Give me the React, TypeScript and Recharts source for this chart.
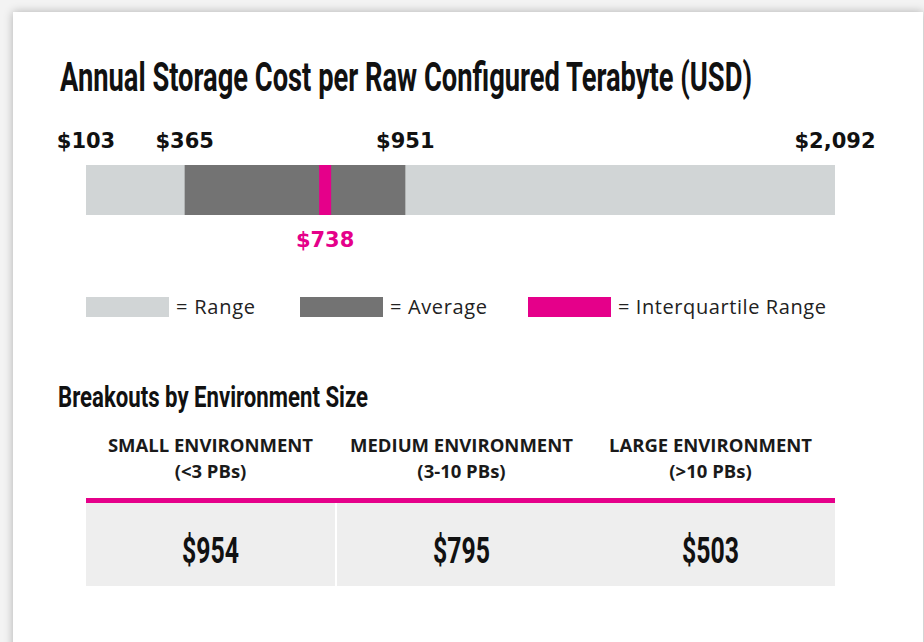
import { BarChart, Bar, XAxis, YAxis } from 'recharts';

// annual storage cost per raw configured TB (USD)
const categories = ['Raw configured TB'];
const rangeValues = [[103, 2092]];
const averageValues = [[365, 951]];
const iqrValues = [[722, 754]];
const iqrLabels = [738];

const legendNames = ['= Range', '= Average', '= Interquartile Range'];
const legendColors = ['#d1d5d6', '#737373', '#e5008a'];

const envNames = ['SMALL ENVIRONMENT', 'MEDIUM ENVIRONMENT', 'LARGE ENVIRONMENT'];
const envSizes = ['(<3 PBs)', '(3-10 PBs)', '(>10 PBs)'];
const envCosts = [954, 795, 503];

const PINK = '#e5008a';
const money = (v: number) => '$' + v.toLocaleString('en-US');

const data = categories.map((name, i) => ({
  name,
  range: rangeValues[i],
  average: averageValues[i],
  iqr: iqrValues[i],
}));

const labelFont = { fontFamily: 'DejaVu Sans', fontWeight: 700, fontSize: 21 };

function EndLabels(props: any) {
  const { x, y, width, index, vals } = props;
  const v = vals[index ?? 0];
  return (
    <g>
      <text x={x} y={y - 17} textAnchor="middle" fill="#111" {...labelFont}>{money(v[0])}</text>
      <text x={x + width} y={y - 17} textAnchor="middle" fill="#111" {...labelFont}>{money(v[1])}</text>
    </g>
  );
}

function IqrLabel(props: any) {
  const { x, y, width, height, index } = props;
  return (
    <text x={x + width / 2} y={y + height + 32} textAnchor="middle" fill={PINK} {...labelFont}>
      {money(iqrLabels[index ?? 0])}
    </text>
  );
}

function Condensed({ x, y, text, size, len, anchor }: any) {
  return (
    <text
      x={x}
      y={y}
      fontFamily="Roboto"
      fontWeight={700}
      fontSize={size}
      fill="#111"
      textLength={len}
      lengthAdjust="spacingAndGlyphs"
      textAnchor={anchor || 'start'}
    >
      {text}
    </text>
  );
}

export default function App() {
  const legendX = [86, 300, 528];
  const legendLen = [79, 97, 208];
  const colLeft = [86, 337, 586];
  const colW = 249;
  return (
    <div style={{ position: 'fixed', top: 0, left: 0, width: 924, height: 642, overflow: 'hidden', background: '#f3f3f3' }}>
      <div
        style={{
          position: 'absolute',
          left: 13,
          top: 12,
          width: 910,
          height: 700,
          background: '#fff',
          boxShadow: '0 0 9px rgba(0,0,0,0.28)',
        }}
      />
      <svg width={924} height={642} style={{ position: 'absolute', left: 0, top: 0 }}>
        <Condensed x={60} y={91} size={40} len={692} text="Annual Storage Cost per Raw Configured Terabyte (USD)" />

        {legendNames.map((n, i) => (
          <g key={n}>
            <rect x={legendX[i]} y={297} width={83} height={20} fill={legendColors[i]} />
            <text x={legendX[i] + 90} y={314} fontFamily="Open Sans" fontSize={20} fill="#222"
              textLength={legendLen[i]} lengthAdjust="spacing">{n}</text>
          </g>
        ))}

        <Condensed x={58} y={407} size={29} len={310} text="Breakouts by Environment Size" />

        {envNames.map((n, i) => (
          <g key={n}>
            <text x={colLeft[i] + colW / 2} y={452} textAnchor="middle" fontFamily="Open Sans" fontWeight={700} fontSize={18.5} fill="#1a1a1a">{n}</text>
            <text x={colLeft[i] + colW / 2} y={478} textAnchor="middle" fontFamily="Open Sans" fontWeight={700} fontSize={18.5} fill="#1a1a1a">{envSizes[i]}</text>
            <rect x={colLeft[i]} y={503} width={colW} height={83} fill="#eeeeee" />
            <Condensed x={colLeft[i] + colW / 2} y={563} size={36} len={57} anchor="middle" text={money(envCosts[i])} />
          </g>
        ))}
        <rect x={86} y={498} width={749} height={5} fill={PINK} />
      </svg>

      <div style={{ position: 'absolute', left: 0, top: 100 }}>
        <BarChart width={924} height={160} data={data} layout="vertical" barCategoryGap={0}
          margin={{ top: 55, right: 89, bottom: 35, left: 86 }}>
          <XAxis type="number" domain={[103, 2092]} allowDataOverflow hide />
          <YAxis yAxisId="r" type="category" dataKey="name" hide />
          <YAxis yAxisId="a" type="category" dataKey="name" hide />
          <YAxis yAxisId="q" type="category" dataKey="name" hide />
          <Bar yAxisId="r" dataKey="range" fill="#d1d5d6" barSize={50} isAnimationActive={false}
            label={(p: any) => <EndLabels {...p} vals={rangeValues} />} />
          <Bar yAxisId="a" dataKey="average" fill="#737373" barSize={50} isAnimationActive={false}
            label={(p: any) => <EndLabels {...p} vals={averageValues} />} />
          <Bar yAxisId="q" dataKey="iqr" fill={PINK} barSize={50} isAnimationActive={false}
            label={(p: any) => <IqrLabel {...p} />} />
        </BarChart>
      </div>
    </div>
  );
}
